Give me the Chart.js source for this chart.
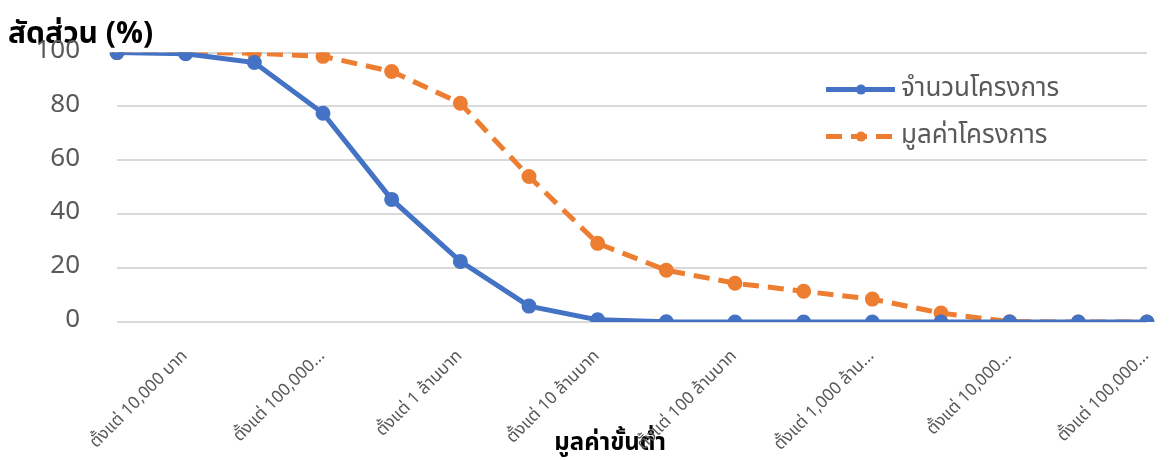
<!DOCTYPE html>
<html>
<head>
<meta charset="utf-8">
<script src="https://cdn.jsdelivr.net/npm/chart.js@4/dist/chart.umd.min.js"></script>
<style>
  html, body { margin: 0; padding: 0; background: #fff; }
  #wrap { width: 1170px; height: 460px; position: relative; }
</style>
</head>
<body>
<div id="wrap"><canvas id="chart"></canvas></div>
<script>
// ขั้นต่ำของมูลค่าโครงการ
const categories = [
    'ตั้งแต่ 5,000 บาท', 'ตั้งแต่ 10,000 บาท', 'ตั้งแต่ 50,000 บาท', 'ตั้งแต่ 100,000 บาท',
    'ตั้งแต่ 500,000 บาท', 'ตั้งแต่ 1 ล้านบาท', 'ตั้งแต่ 5 ล้านบาท', 'ตั้งแต่ 10 ล้านบาท',
    'ตั้งแต่ 50 ล้านบาท', 'ตั้งแต่ 100 ล้านบาท', 'ตั้งแต่ 500 ล้านบาท', 'ตั้งแต่ 1,000 ล้านบาท',
    'ตั้งแต่ 5,000 ล้านบาท', 'ตั้งแต่ 10,000 ล้านบาท', 'ตั้งแต่ 50,000 ล้านบาท', 'ตั้งแต่ 100,000 ล้านบาท'
];
// ป้ายที่แสดงบนแกน (แสดงเว้นหนึ่ง, ตัดข้อความยาว)
const tickLabels = [
    '', 'ตั้งแต่ 10,000 บาท', '', 'ตั้งแต่ 100,000...',
    '', 'ตั้งแต่ 1 ล้านบาท', '', 'ตั้งแต่ 10 ล้านบาท',
    '', 'ตั้งแต่ 100 ล้านบาท', '', 'ตั้งแต่ 1,000 ล้าน...',
    '', 'ตั้งแต่ 10,000...', '', 'ตั้งแต่ 100,000...'
];
const projectCount = [100, 99.6, 96.3, 77.5, 45.5, 22.5, 5.9, 0.8, 0.1, 0, 0, 0, 0, 0, 0, 0];
const projectValue = [100, 100, 99.8, 98.6, 93.0, 81.2, 54.0, 29.2, 19.2, 14.4, 11.4, 8.5, 3.3, 0.1, 0, 0];
const yTicks = [0, 20, 40, 60, 80, 100];

const thaiFont = "'Noto Sans Thai', 'Leelawadee UI', Tahoma, 'Noto Sans', 'DejaVu Sans', sans-serif";
const grey = '#595959';

// legend วาดเองในพื้นที่กราฟ
const insideLegend = {
    id: 'insideLegend',
    afterDatasetsDraw(chart) {
        const { ctx, chartArea } = chart;
        const x0 = chartArea.left + 709;
        const y0 = chartArea.top + 37;
        chart.data.datasets.forEach((ds, i) => {
            const y = y0 + i * 47;
            ctx.save();
            ctx.strokeStyle = ds.borderColor;
            ctx.lineWidth = ds.borderWidth;
            ctx.setLineDash(ds.borderDash || []);
            ctx.beginPath();
            ctx.moveTo(x0, y);
            ctx.lineTo(x0 + 69, y);
            ctx.stroke();
            ctx.setLineDash([]);
            ctx.fillStyle = ds.pointBackgroundColor;
            ctx.beginPath();
            ctx.arc(x0 + 35, y, ds.pointRadius, 0, Math.PI * 2);
            ctx.fill();
            ctx.fillStyle = grey;
            ctx.font = '26px ' + thaiFont;
            ctx.textBaseline = 'middle';
            ctx.fillText(ds.label, x0 + 75, y + 1);
            ctx.restore();
        });
    }
};

const ctx = document.getElementById('chart').getContext('2d');
new Chart(ctx, {
    type: 'line',
    data: {
        labels: categories,
        datasets: [{
            label: 'จำนวนโครงการ',
            data: projectCount,
            borderColor: '#4472C4',
            backgroundColor: '#4472C4',
            pointBackgroundColor: '#4472C4',
            pointBorderColor: '#4472C4',
            borderWidth: 5,
            pointRadius: 5,
            tension: 0
        }, {
            label: 'มูลค่าโครงการ',
            data: projectValue,
            borderColor: '#ED7D31',
            backgroundColor: '#ED7D31',
            pointBackgroundColor: '#ED7D31',
            pointBorderColor: '#ED7D31',
            borderWidth: 5,
            borderDash: [16, 9],
            pointRadius: 5,
            tension: 0
        }]
    },
    options: {
        responsive: true,
        maintainAspectRatio: false,
        animation: false,
        layout: { padding: { left: 8, right: 23, top: 0, bottom: 0 } },
        plugins: {
            legend: { display: false },
            tooltip: { enabled: false },
            title: {
                display: true,
                text: 'สัดส่วน (%)',
                align: 'start',
                color: '#000',
                font: { family: thaiFont, size: 30, weight: 'bold', lineHeight: 1 },
                padding: { top: 20, bottom: 1 }
            }
        },
        scales: {
            x: {
                offset: false,
                grid: { display: false, drawTicks: false },
                border: { display: false },
                ticks: {
                    autoSkip: false,
                    minRotation: 45,
                    maxRotation: 45,
                    padding: 25,
                    color: grey,
                    font: { family: thaiFont, size: 17 },
                    callback: (v, i) => tickLabels[i]
                },
                title: {
                    display: true,
                    text: 'มูลค่าขั้นต่ำ       ',
                    color: '#000',
                    font: { family: thaiFont, size: 24, weight: 'bold' },
                    padding: { top: 0, bottom: 0 }
                },
                afterFit: scale => {
                    scale.height = 138;
                    scale.paddingLeft = 0;
                    scale.paddingRight = 0;
                }
            },
            y: {
                min: 0,
                max: 100,
                afterBuildTicks: scale => { scale.ticks = yTicks.map(v => ({ value: v })); },
                grid: { color: '#d9d9d9', lineWidth: 2, drawTicks: false },
                border: { display: false },
                ticks: {
                    padding: 37,
                    color: grey,
                    font: { family: thaiFont, size: 26 }
                },
                afterFit: scale => { scale.width = 109; }
            }
        }
    },
    plugins: [insideLegend]
});
</script>
</body>
</html>
